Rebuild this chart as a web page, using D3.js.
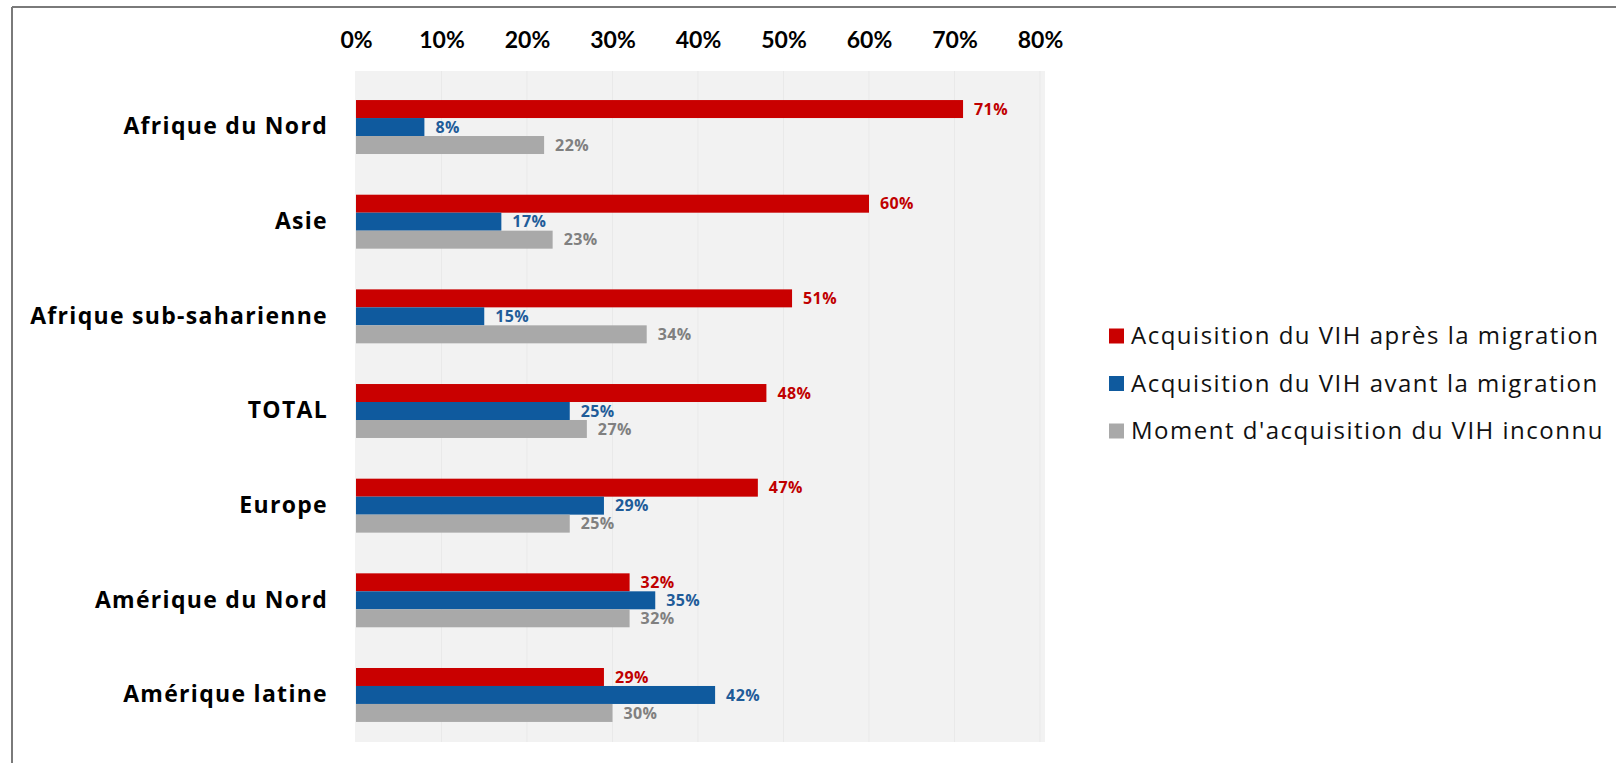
<!DOCTYPE html>
<html><head><meta charset="utf-8">
<script src="https://cdn.jsdelivr.net/npm/d3@7"></script>
<style>body{margin:0;background:#fff;} svg{display:block;}</style>
</head><body><svg id="c" width="1616" height="763"></svg>
<script>
const categories = ["Afrique du Nord","Asie","Afrique sub-saharienne","TOTAL","Europe","Amérique du Nord","Amérique latine"];
const seriesNames = ["Acquisition du VIH après la migration","Acquisition du VIH avant la migration","Moment d'acquisition du VIH inconnu"];
const apres = [71,60,51,48,47,32,29];
const avant = [8,17,15,25,29,35,42];
const inconnu = [22,23,34,27,25,32,30];
const tickValues = [0,10,20,30,40,50,60,70,80];

const barColors = ["#C90000","#0F5A9E","#A9A9A9"];
const labelColors = ["#C00000","#1F5C99","#808080"];
const series = [apres, avant, inconnu];

const svg = d3.select("#c");
const font = "Lato, 'Open Sans', sans-serif";
const font2 = "'Open Sans', Lato, sans-serif";

// frame
svg.append("line").attr("x1",12).attr("x2",1616).attr("y1",7).attr("y2",7).attr("stroke","#7a7a7a").attr("stroke-width",2);
svg.append("line").attr("x1",12).attr("x2",12).attr("y1",7).attr("y2",763).attr("stroke","#7a7a7a").attr("stroke-width",2);

const x = d3.scaleLinear().domain([0,80]).range([356,1040]);
const y = d3.scaleBand().domain(categories).range([79.7,742.3]).paddingInner(0.43).paddingOuter(0.215);
const ySub = d3.scaleBand().domain(d3.range(3)).range([0,y.bandwidth()]);

// plot area
svg.append("rect").attr("x",355).attr("y",71).attr("width",1045-355).attr("height",742-71).attr("fill","#F2F2F2");
svg.append("g").selectAll("line").data(tickValues.slice(1)).join("line")
  .attr("x1",d=>x(d)).attr("x2",d=>x(d)).attr("y1",71).attr("y2",742)
  .attr("stroke","#E9E9E9").attr("stroke-width",1);

// top axis
const ax = svg.append("g").attr("transform","translate(0,50)")
  .call(d3.axisTop(x).tickValues(tickValues).tickFormat(d=>d+"%").tickSize(0).tickPadding(0));
ax.select(".domain").remove();
ax.selectAll("text").attr("font-family",font).attr("font-weight","bold").attr("font-size",23).attr("fill","#000").attr("dy","0.32em").attr("y",-9);

// category axis
const ay = svg.append("g").attr("transform","translate(328,0)")
  .call(d3.axisLeft(y).tickSize(0).tickPadding(0));
ay.select(".domain").remove();
ay.selectAll("text").attr("font-family",font2).attr("font-weight","bold").attr("font-size",23)
  .attr("letter-spacing",1.3).attr("fill","#000");

// bars
series.forEach((vals,si)=>{
  const g = svg.append("g");
  g.selectAll("rect").data(vals).join("rect")
    .attr("x",x(0)).attr("y",(d,i)=>y(categories[i])+ySub(si))
    .attr("width",d=>x(d)-x(0)).attr("height",ySub.bandwidth())
    .attr("fill",barColors[si]);
  g.selectAll("text").data(vals).join("text")
    .attr("x",d=>x(d)+11).attr("y",(d,i)=>y(categories[i])+ySub(si)+ySub.bandwidth()/2)
    .attr("dy","0.35em").attr("font-family",font2).attr("font-weight","bold").attr("font-size",16)
    .attr("letter-spacing",0.4).attr("fill",labelColors[si]).text(d=>d+"%");
});

// legend
const lg = svg.append("g");
seriesNames.forEach((n,i)=>{
  const cy = 336 + i*47.5;
  lg.append("rect").attr("x",1109).attr("y",cy-7.5).attr("width",15).attr("height",15).attr("fill",barColors[i]);
  lg.append("text").attr("x",1131).attr("y",cy).attr("dy","0.35em").attr("font-family",font2).attr("font-size",24)
    .attr("letter-spacing",1.5).attr("fill","#111").text(n);
});
</script></body></html>
